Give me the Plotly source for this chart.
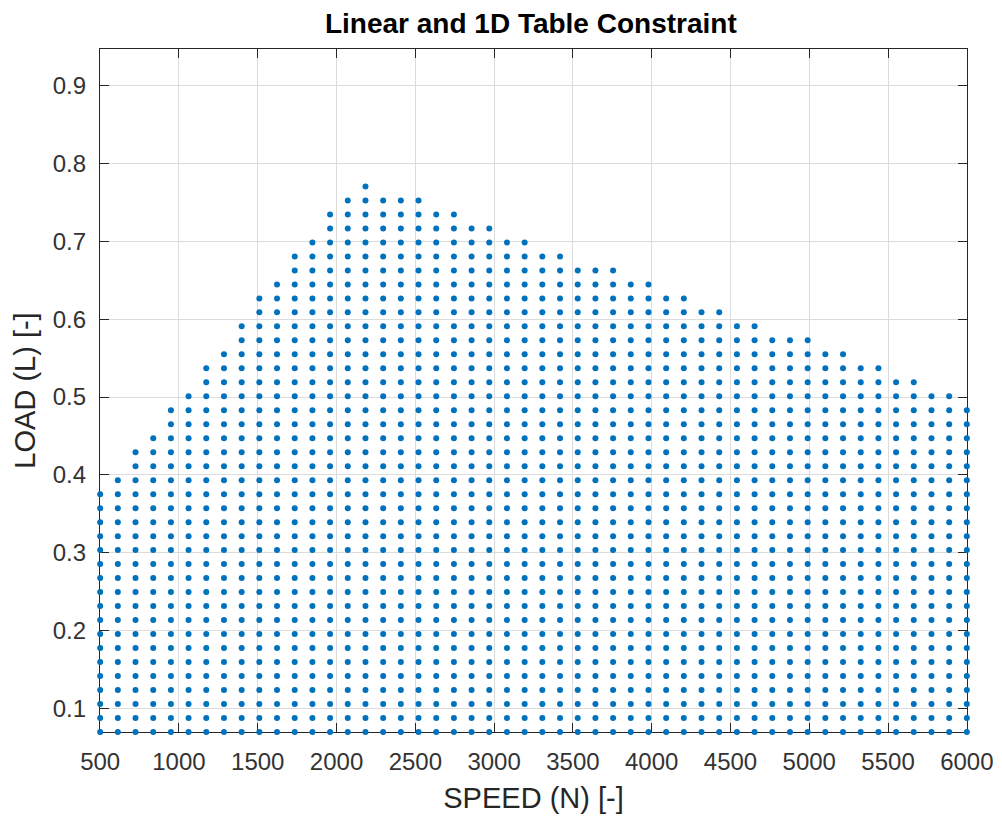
import plotly.graph_objects as go

# Speed breakpoints (x grid)
speed_grid = [500.00, 612.24, 724.49, 836.73, 948.98, 1061.22, 1173.47, 1285.71, 1397.96, 1510.20,
              1622.45, 1734.69, 1846.94, 1959.18, 2071.43, 2183.67, 2295.92, 2408.16, 2520.41, 2632.65,
              2744.90, 2857.14, 2969.39, 3081.63, 3193.88, 3306.12, 3418.37, 3530.61, 3642.86, 3755.10,
              3867.35, 3979.59, 4091.84, 4204.08, 4316.33, 4428.57, 4540.82, 4653.06, 4765.31, 4877.55,
              4989.80, 5102.04, 5214.29, 5326.53, 5438.78, 5551.02, 5663.27, 5775.51, 5887.76, 6000.00]

# Load breakpoints (y grid)
load_grid = [0.0700, 0.0880, 0.1059, 0.1239, 0.1418, 0.1598, 0.1778, 0.1957, 0.2137, 0.2316,
             0.2496, 0.2676, 0.2855, 0.3035, 0.3214, 0.3394, 0.3573, 0.3753, 0.3933, 0.4112,
             0.4292, 0.4471, 0.4651, 0.4831, 0.5010, 0.5190, 0.5369, 0.5549, 0.5729, 0.5908,
             0.6088, 0.6267, 0.6447, 0.6627, 0.6806, 0.6986, 0.7165, 0.7345, 0.7524, 0.7704]

# Maximum admissible load for each speed column (constraint boundary)
max_load = [0.3753, 0.3933, 0.4292, 0.4471, 0.4831, 0.5010, 0.5369, 0.5549, 0.5908, 0.6267,
            0.6447, 0.6806, 0.6986, 0.7345, 0.7524, 0.7704, 0.7524, 0.7524, 0.7524, 0.7345,
            0.7345, 0.7165, 0.7165, 0.6986, 0.6986, 0.6806, 0.6806, 0.6627, 0.6627, 0.6627,
            0.6447, 0.6447, 0.6267, 0.6267, 0.6088, 0.6088, 0.5908, 0.5908, 0.5729, 0.5729,
            0.5729, 0.5549, 0.5549, 0.5369, 0.5369, 0.5190, 0.5190, 0.5010, 0.5010, 0.4831]

x_tick_vals = [500, 1000, 1500, 2000, 2500, 3000, 3500, 4000, 4500, 5000, 5500, 6000]
y_tick_vals = [0.1, 0.2, 0.3, 0.4, 0.5, 0.6, 0.7, 0.8, 0.9]

xs, ys = [], []
for s, lim in zip(speed_grid, max_load):
    for l in load_grid:
        if l <= lim + 1e-6:
            xs.append(s)
            ys.append(l)

fig = go.Figure()
fig.add_trace(go.Scatter(
    x=xs, y=ys, mode="markers",
    marker=dict(color="#0072BD", size=6, line=dict(width=0)),
    cliponaxis=False, showlegend=False,
))

font_family = "Liberation Sans, Arial, Helvetica, sans-serif"
axis_common = dict(
    showline=True, linecolor="#262626", linewidth=1.3, mirror="ticks",
    ticks="inside", ticklen=9, tickcolor="#262626", tickwidth=1.3,
    showgrid=True, gridcolor="#dcdcdc", gridwidth=1,
    zeroline=False, layer="below traces", automargin=False,
    tickfont=dict(family=font_family, size=24, color="#333333"),
)

fig.update_layout(
    width=994, height=815,
    margin=dict(l=92, r=35, t=41, b=91),
    paper_bgcolor="white", plot_bgcolor="white",
    title=dict(text="<b>Linear and 1D Table Constraint</b>", x=0.526, xanchor="center",
               y=0.981, yanchor="middle",
               font=dict(family=font_family, size=28, color="#000000")),
    xaxis=dict(range=[499, 6001], tickvals=x_tick_vals, ticktext=[str(v) for v in x_tick_vals],
               ticklabelstandoff=8,
               title=dict(text="SPEED (N) [-]", standoff=13,
                          font=dict(family=font_family, size=29, color="#262626")),
               **axis_common),
    yaxis=dict(range=[0.0699, 0.947], tickvals=y_tick_vals, ticktext=[f"{v:.1f}" for v in y_tick_vals],
               ticklabelstandoff=8,
               title=dict(text="LOAD (L) [-]", standoff=8,
                          font=dict(family=font_family, size=29, color="#262626")),
               **axis_common),
)

fig.write_html("out.html")
